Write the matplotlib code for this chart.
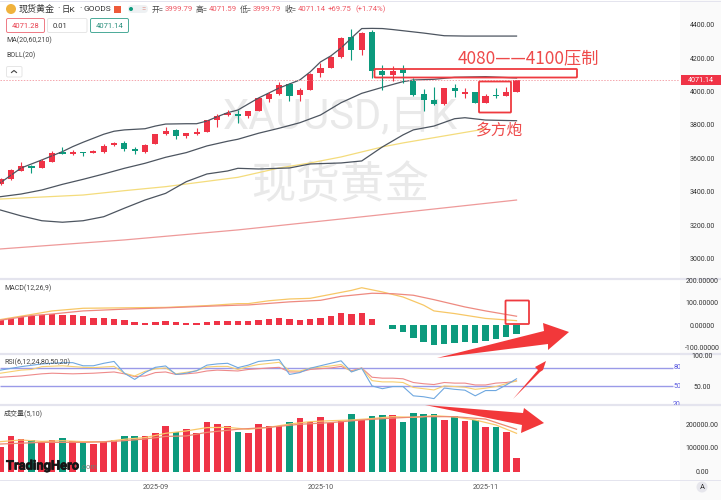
import matplotlib
matplotlib.use('Agg')
import matplotlib.pyplot as plt
import matplotlib.patheffects as pe
from matplotlib.patches import Rectangle, Polygon, Circle, FancyBboxPatch

plt.rcParams['font.family'] = ['Roboto', 'Noto Sans CJK SC', 'DejaVu Sans']

# Daily candles
opens = [3446, 3476, 3526, 3554, 3544, 3580, 3636, 3624, 3640, 3632, 3640, 3678, 3690, 3656, 3640, 3684, 3744,
         3768, 3735, 3747, 3758, 3829, 3859, 3867, 3855, 3885, 3957, 3983, 4045, 3979, 4011, 4111, 4141, 4207,
         4328, 4250, 4356, 4123, 4097, 4133, 4069, 3983, 3951, 3923, 4021, 3985, 3997, 3933, 3979, 3973, 3999.79]
closes = [3474, 3530, 3556, 3542, 3584, 3634, 3628, 3638, 3632, 3642, 3676, 3690, 3656, 3642, 3682, 3744, 3762,
          3734, 3750, 3759, 3829, 3855, 3870, 3855, 3883, 3959, 3985, 4039, 3973, 4007, 4105, 4141, 4205, 4322,
          4247, 4352, 4125, 4097, 4123, 4113, 3979, 3951, 3925, 4021, 4003, 3999, 3931, 3973, 3973, 3999, 4071.14]
highs = [3480, 3534, 3576, 3558, 3594, 3646, 3670, 3650, 3640, 3650, 3684, 3700, 3704, 3666, 3684, 3744, 3790,
         3776, 3753, 3780, 3829, 3865, 3889, 3889, 3883, 3963, 3999, 4059, 4049, 4023, 4113, 4173, 4213, 4325,
         4374, 4355, 4368, 4159, 4153, 4159, 4079, 4013, 4025, 4021, 4043, 4019, 3999, 3985, 4019, 4025, 4071.59]
lows = [3442, 3470, 3522, 3510, 3540, 3578, 3624, 3620, 3614, 3630, 3630, 3674, 3644, 3626, 3630, 3684, 3740,
        3714, 3720, 3740, 3756, 3789, 3855, 3813, 3840, 3883, 3939, 3979, 3943, 3943, 4009, 4089, 4139, 4202,
        4189, 4219, 4081, 4009, 4065, 4053, 3973, 3885, 3921, 3921, 3969, 3961, 3929, 3931, 3963, 3973, 3999.79]

# Overlay lines, read at the candles where the shape changes
boll_up_i = [0, 2, 4, 6, 7, 8, 10, 11, 12, 14, 15, 16, 18, 19, 20, 21, 22, 23, 25, 27, 29, 30, 31, 32, 33, 34, 35, 36,
             37, 38, 39, 41, 43, 45, 47, 50]
boll_up = [3454, 3542, 3590, 3640, 3670, 3696, 3744, 3762, 3770, 3777, 3793, 3805, 3807, 3807, 3823, 3849, 3873, 3889,
           3961, 4021, 4069, 4117, 4177, 4213, 4261, 4320, 4377, 4378, 4377, 4371, 4364, 4350, 4334, 4332, 4332, 4332]
boll_mid_i = [0, 2, 4, 6, 8, 10, 12, 14, 16, 18, 20, 22, 23, 25, 27, 29, 31, 33, 35, 37, 39, 40, 42, 44, 47, 50]
boll_mid = [3370, 3386, 3410, 3444, 3474, 3506, 3540, 3570, 3606, 3634, 3674, 3702, 3714, 3750, 3780, 3813, 3859,
            3933, 3989, 4025, 4059, 4069, 4073, 4085, 4089, 4081]
boll_low_i = [0, 2, 4, 6, 8, 10, 12, 14, 16, 18, 20, 22, 23, 25, 28, 30, 33, 35, 37, 39, 40, 42, 44, 45, 47, 50]
boll_low = [3290, 3255, 3226, 3217, 3226, 3250, 3301, 3350, 3390, 3460, 3506, 3524, 3540, 3536, 3542, 3566, 3572,
            3584, 3668, 3740, 3770, 3793, 3837, 3843, 3829, 3825]
ma60_i = [0, 4, 8, 12, 16, 18, 23, 27, 30, 33, 37, 39, 43, 47]
ma60 = [3356, 3368, 3380, 3406, 3430, 3446, 3486, 3542, 3572, 3608, 3668, 3692, 3734, 3776]
ma210_i = [0, 12, 23, 36, 50]
ma210 = [3057, 3111, 3171, 3256, 3350]

# MACD pane
macd_hist = [22, 30, 40, 40, 44, 50, 46, 46, 39, 33, 31, 28, 21, 13, 10, 13, 17, 12, 9, 8, 12, 18, 19, 17, 17, 21, 26,
             33, 26, 21, 28, 33, 42, 55, 50, 55, 26, 1, -18, -33, -58, -78, -90, -84, -80, -78, -80, -71, -64, -54, -39]
dea_i = [0, 3, 5, 8, 12, 16, 20, 23, 24, 28, 31, 33, 36, 38, 40, 42, 45, 47, 50]
dea = [22, 43, 50, 64, 72, 78, 85, 90, 91, 105, 112, 130, 144, 142, 135, 115, 82, 64, 40]
dif_i = [0, 3, 5, 8, 12, 16, 20, 23, 24, 26, 28, 30, 32, 34, 35, 37, 39, 41, 42, 44, 47, 50]
dif = [25, 48, 64, 76, 78, 80, 88, 97, 97, 110, 118, 121, 139, 157, 169, 150, 127, 90, 64, 52, 30, 20]

# RSI pane
rsi24_i = [0, 2, 4, 5, 7, 9, 11, 12, 13, 14, 15, 16, 17, 18, 19, 20, 21, 23, 24, 26, 27, 28, 29, 30, 32, 33, 34, 35,
           36, 37, 38, 39, 40, 41, 42, 43, 44, 45, 46, 47, 48, 49, 50]
rsi24 = [64.5, 66.6, 70, 71, 70, 71, 73, 70, 65.5, 66.6, 72, 73, 69, 70, 71.5, 74.6, 76, 74.6, 77, 79.5, 80.5, 73, 73,
         77, 79.5, 82, 75, 79.5, 64.5, 63, 63, 62, 56, 54, 52.7, 56, 55, 55, 52, 52, 55, 56, 58.6]
rsi12_i = [0, 2, 3, 4, 6, 8, 9, 11, 12, 13, 14, 15, 16, 17, 18, 19, 20, 21, 22, 23, 24, 25, 27, 28, 29, 30, 32, 33,
           34, 35, 36, 37, 38, 39, 40, 41, 42, 43, 44, 45, 46, 47, 48, 49, 50]
rsi12 = [71, 76, 77, 81.6, 83, 80.5, 80, 82, 71, 66.6, 74, 78, 79.5, 70, 72.5, 75, 81, 82, 82, 77, 81.6, 85, 88.6, 75,
         74.6, 79, 82.7, 85, 73.6, 79, 59, 57, 57, 56, 48, 46, 44, 50.5, 49.5, 48.4, 45, 46.8, 49.5, 54, 58.6]
rsi6_i = [0, 2, 4, 6, 7, 8, 9, 10, 11, 12, 13, 14, 15, 16, 17, 18, 19, 20, 21, 22, 23, 24, 25, 27, 28, 29, 30, 32, 33,
          34, 35, 36, 37, 38, 39, 40, 41, 42, 43, 44, 45, 46, 47, 48, 49, 50]
rsi6 = [76, 81.6, 86, 88, 88, 83, 83, 87, 90, 71, 61, 72, 80.5, 82.7, 69, 71, 75, 84, 86, 87, 80, 84, 90, 93, 69, 72,
        79, 87, 91, 73, 79, 50.5, 46, 49.5, 49.5, 34.5, 33, 30, 47, 45, 43.6, 34.5, 43, 43, 52, 62]

# Volume pane
volume = [102000, 151000, 139000, 134000, 123000, 132000, 140000, 130000, 119000, 116000, 126000, 132000, 148000,
          148000, 151000, 164000, 190000, 167000, 178000, 164000, 207000, 199000, 190000, 168000, 161000, 199000,
          193000, 192000, 209000, 224000, 209000, 230000, 203000, 211000, 241000, 218000, 234000, 238000, 238000,
          210000, 245000, 241000, 242000, 218000, 232000, 213000, 218000, 189000, 186000, 167000, 59000]
vol5_i = [0, 2, 4, 6, 8, 10, 12, 14, 16, 18, 20, 22, 24, 26, 28, 30, 32, 34, 36, 38, 40, 42, 44, 46, 48, 50]
vol5 = [126000, 133000, 127000, 130000, 126000, 125000, 136000, 143000, 161000, 171000, 185000, 186000, 178000,
        186000, 200000, 210000, 214000, 217000, 223000, 231000, 228000, 235000, 230000, 217000, 196000, 161000]
vol10_i = [0, 4, 8, 11, 14, 16, 18, 20, 23, 26, 29, 32, 35, 38, 41, 44, 47, 50]
vol10 = [116000, 123000, 123000, 127000, 137000, 148000, 150000, 165000, 178000, 186000, 199000, 206000, 217000,
         225000, 231000, 231000, 221000, 178000]

month_ticks = [15, 31, 47]
month_labels = ['2025-09', '2025-10', '2025-11']

RED = '#ef3346'
GREEN = '#0c9a7d'
W, H = 721, 500
LEFT_W = 680
x_lim = (-0.05, 65.84)


def pane(top, bottom, y_lim):
    # place an axes by its pixel rows
    ax = fig.add_axes([0, 1 - bottom / H, LEFT_W / W, (bottom - top) / H], facecolor='none')
    ax.set_xlim(*x_lim)
    ax.set_ylim(*y_lim)
    for s in ax.spines.values():
        s.set_visible(False)
    ax.yaxis.tick_right()
    ax.tick_params(axis='y', length=0, pad=15.8, labelsize=5, labelcolor='#333333')
    ax.tick_params(axis='x', length=0, labelbottom=False)
    return ax


def center_labels(ax):
    for lab in ax.get_yticklabels():
        lab.set_ha('center')


fig = plt.figure(figsize=(W / 100, H / 100), dpi=100, facecolor='white')

# pixel layer behind the panes: right strip, separators, watermark
bg = fig.add_axes([0, 0, 1, 1], zorder=-1)
bg.set_xlim(0, W)
bg.set_ylim(H, 0)
bg.axis('off')
bg.add_patch(Rectangle((LEFT_W, 0), W - LEFT_W, H, color='#fafafa', lw=0))
for y, lw in [(279, 1.6), (353.5, 1.6), (404.5, 1.6), (479.5, 0.7), (0.5, 0.7)]:
    bg.plot([0, W], [y, y], color='#e4e4ee', lw=lw)
bg.text(340, 117, 'XAUUSD,日K', fontsize=30, color='#e9e9e9', ha='center', va='center')
bg.text(340, 186, '现货黄金', fontsize=32, color='#e9e9e9', ha='center', va='center')

idx = list(range(len(opens)))
colors = [RED if c >= o else GREEN for o, c in zip(opens, closes)]

# price pane
ax = pane(0, 278, (2883, 4548))
ax.plot(ma210_i, ma210, color='#ee9a9a', lw=0.9)
ax.plot(ma60_i, ma60, color='#f4dc7c', lw=0.9)
for xs, ys in [(boll_up_i, boll_up), (boll_mid_i, boll_mid), (boll_low_i, boll_low)]:
    ax.plot(xs, ys, color='#4d5560', lw=0.9)
ax.axhline(closes[-1], color='#f4a6ad', lw=0.7, ls=(0, (1.5, 1.5)))
ax.vlines(idx, lows, highs, colors=colors, lw=0.8)
ax.bar(idx, [abs(c - o) for o, c in zip(opens, closes)], bottom=[min(o, c) for o, c in zip(opens, closes)],
       width=0.6, color=colors)
ax.set_yticks(range(3000, 4401, 200))
ax.set_yticklabels([f'{v:.2f}' for v in range(3000, 4401, 200)])
center_labels(ax)

# MACD pane
ax2 = pane(280, 352, (-122, 204))
ax2.bar(idx, macd_hist, width=0.62, color=[RED if v >= 0 else GREEN for v in macd_hist])
ax2.plot(dif_i, dif, color='#f7c766', lw=0.9)
ax2.plot(dea_i, dea, color='#ee8a80', lw=0.9)
ax2.set_yticks([-100, 0, 100, 200])
ax2.set_yticklabels(['-100.00000', '0.00000', '100.00000', '200.00000'])
center_labels(ax2)

# RSI pane
ax3 = pane(354, 404.5, (20.5, 102))
ax3.hlines([80, 50], x_lim[0], 65.2, color='#9a9ae8', lw=1.0)
for v in [80, 50, 20]:
    ax3.text(65.55, v, str(v), color='#5a5ae0', fontsize=5, ha='center', va='center', clip_on=True)
ax3.plot(rsi24_i, rsi24, color='#ee8a8a', lw=0.8)
ax3.plot(rsi12_i, rsi12, color='#f7cf70', lw=0.8)
ax3.plot(rsi6_i, rsi6, color='#6fa8e0', lw=0.8)
ax3.set_yticks([50, 100])
ax3.set_yticklabels(['50.00', '100.00'])
center_labels(ax3)

# volume pane
ax4 = pane(405, 479, (-31000, 280000))
ax4.bar(idx, volume, width=0.64, color=colors)
ax4.plot(vol5_i, vol5, color='#f9c96b', lw=0.9)
ax4.plot(vol10_i, vol10, color='#ee8a70', lw=0.9)
ax4.set_yticks([0, 100000, 200000])
ax4.set_yticklabels(['0.00', '100000.00', '200000.00'])
center_labels(ax4)
ax4.set_xticks(month_ticks)
ax4.set_xticklabels(month_labels)
ax4.tick_params(axis='x', labelbottom=True, labelsize=5.2, labelcolor='#555555', pad=3.5)

# pixel layer on top: header, labels and the hand drawn marks
top = fig.add_axes([0, 0, 1, 1], zorder=10, facecolor='none')
top.set_xlim(0, W)
top.set_ylim(H, 0)
top.axis('off')

top.add_patch(Circle((11, 9), 5, color='#f0b23c', lw=0))
for x, s, fs in [(19, '现货黄金', 6.5), (57.5, '·', 6.5), (62, '日K', 6), (79, '·', 6.5), (83, 'GOODS', 6)]:
    top.text(x, 9, s, fontsize=fs, color='#333333', va='center')
top.add_patch(Rectangle((113.5, 5.5), 7, 7, color='#ee5a3a', lw=0))
top.add_patch(FancyBboxPatch((128, 5), 20, 8, boxstyle='round,pad=0,rounding_size=4', color='#eef1f3', lw=0))
top.add_patch(Circle((131, 9), 2, color=GREEN, lw=0))
top.text(143, 9, '=', fontsize=5.5, color='#e08a80', ha='center', va='center')
head_x = [152, 196, 240, 285]
head_k = ['开=', '高=', '低=', '收=']
head_v = ['3999.79', '4071.59', '3999.79', '4071.14']
for x, k, v in zip(head_x, head_k, head_v):
    top.text(x, 9, k, fontsize=5.6, color='#444444', va='center')
    top.text(x + 12.5, 9, v, fontsize=5.6, color='#ef5a66', va='center')
top.text(328, 9, '+69.75', fontsize=5.6, color='#ef5a66', va='center')
top.text(356, 9, '(+1.74%)', fontsize=5.6, color='#ef5a66', va='center')

for x0, x1, s, ec, tc in [(6.5, 44.5, '4071.28', '#ee7a85', '#e8404f'), (47.5, 87, '0.01', '#e6e6e6', '#333333'),
                          (90.5, 128.5, '4071.14', '#4aaa98', '#2a8f7c')]:
    top.add_patch(FancyBboxPatch((x0, 18.5), x1 - x0, 14, boxstyle='round,pad=0,rounding_size=1.5',
                                 fc='white', ec=ec, lw=0.7))
    top.text((x0 + x1) / 2 if s != '0.01' else 53, 25.5, s, fontsize=5.5, color=tc, ha='center' if s != '0.01' else 'left',
             va='center')
top.text(6, 40.5, 'MA(20,60,210)', fontsize=5, color='#444444', va='center')
top.text(6, 55.5, 'BOLL(20)', fontsize=5, color='#444444', va='center')
top.add_patch(FancyBboxPatch((6.5, 66.5), 15.5, 10.5, boxstyle='round,pad=0,rounding_size=1.5', fc='white',
                             ec='#e6e6e6', lw=0.7))
top.plot([11.5, 14, 16.5], [72.5, 70.5, 72.5], color='#444444', lw=0.8)

top.text(4, 288, 'MACD(12,26,9)', fontsize=5, color='#444444', va='center')
top.text(4, 362, 'RSI(6,12,24,80,50,20)', fontsize=5.1, color='#444444', va='center')
top.text(4, 413.5, '成交量(5,10)', fontsize=5, color='#444444', va='center')

brand = top.text(6, 466, 'TradingHero', fontsize=9.3, fontweight='bold', color='#151515', va='center')
brand.set_path_effects([pe.withStroke(linewidth=0.5, foreground='#151515')])
top.text(80, 467.5, '.com', fontsize=5.4, color='#7a7a70', va='center')

# last price tag and auto button
top.add_patch(Rectangle((681, 75), 40, 10, color='#ef3346', lw=0))
top.text(701, 80, '4071.14', fontsize=5.2, color='white', ha='center', va='center')
top.add_patch(Circle((702, 487), 5.5, color='#e6e6ec', lw=0))
top.text(702, 487, 'A', fontsize=5.5, color='#333333', ha='center', va='center')

# hand drawn marks
MARK = '#ee3a3f'
for x0, y0, x1, y1 in [(374.5, 69, 577, 77.5), (479, 81.5, 511, 112.5), (505.5, 300.5, 529, 324)]:
    top.add_patch(FancyBboxPatch((x0, y0), x1 - x0, y1 - y0, boxstyle='round,pad=0,rounding_size=0.8', fc='none',
                                 ec=MARK, lw=1.3))
top.text(458, 58, '4080——4100压制', fontsize=12.4, color='#ee4a4a', va='center',
         family=['Noto Sans CJK SC', 'DejaVu Sans'])
top.text(476, 130, '多方炮', fontsize=11.3, color='#ee4a4a', va='center')
top.add_patch(Polygon([(437, 358), (544, 331), (543, 323), (569, 332), (548, 350), (548, 344)], color='#f2383a', lw=0))
top.add_patch(Polygon([(513, 399), (538, 370), (535, 367), (546, 361), (543, 370), (540, 372)], color='#f2383a', lw=0))
top.add_patch(Polygon([(425, 405), (523, 413), (524, 408), (544, 423), (521, 433), (522, 425)], color='#f2383a', lw=0))

fig.savefig('out.png', dpi=100)
